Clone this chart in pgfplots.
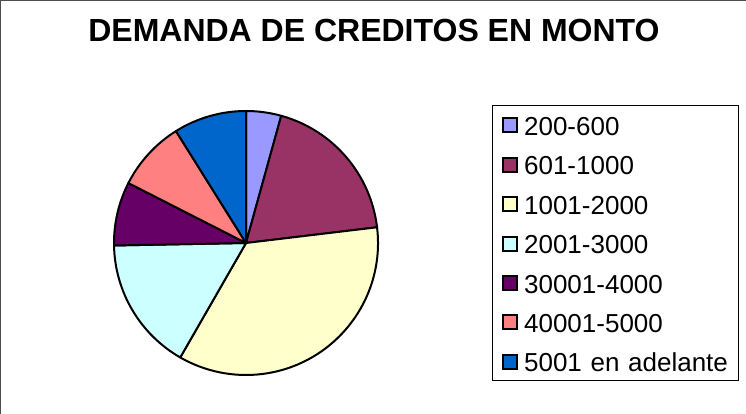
\documentclass[border=0pt]{standalone}
\usepackage{fontspec}
\setmainfont{Liberation Sans}
\usepackage{pgfplots}
\usepackage{pgfplotstable}
\pgfplotsset{compat=1.18}
\definecolor{c1}{HTML}{9999FF}
\definecolor{c2}{HTML}{993366}
\definecolor{c3}{HTML}{FFFFCC}
\definecolor{c4}{HTML}{CCFFFF}
\definecolor{c5}{HTML}{660066}
\definecolor{c6}{HTML}{FF8080}
\definecolor{c7}{HTML}{0066CC}
\pgfplotstableread[col sep=comma]{
label,value,col
200-600,4.3,c1
601-1000,18.8,c2
1001-2000,35.2,c3
2001-3000,16.4,c4
30001-4000,7.8,c5
40001-5000,8.6,c6
5001 en adelante,8.9,c7
}\piedata
\begin{document}
\begin{tikzpicture}
\useasboundingbox (0,0) rectangle (746pt,414pt);
\begin{axis}[
  at={(0,0)}, anchor=south west,
  width=746pt, height=414pt, scale only axis,
  xmin=0, xmax=746, ymin=0, ymax=414,
  hide axis, clip=false,
  title={DEMANDA DE CREDITOS EN MONTO},
  title style={at={(0.5013,0.8841)}, anchor=base, inner sep=0pt,
    font=\fontsize{32}{37}\selectfont\bfseries},
  legend image code/.code={\draw[#1, line width=2pt] (1pt,-7.7pt) rectangle (15.6pt,6.3pt);},
  legend cell align=left,
  legend style={at={(axis cs:492,309)}, anchor=north west,
    draw=black, line width=1pt, fill=white,
    inner xsep=9pt, inner ysep=3pt,
    row sep=6.8pt, column sep=6pt,
    font=\fontsize{26}{30}\selectfont,
    nodes={inner sep=0pt, text height=27pt, text depth=5.6pt}},
]
\def\cumval{0}
\pgfplotsforeachungrouped \i in {0,...,6}{%
  \pgfplotstablegetelem{\i}{value}\of\piedata \let\sliceval\pgfplotsretval
  \pgfplotstablegetelem{\i}{col}\of\piedata \let\slicecol\pgfplotsretval
  \pgfplotstablegetelem{\i}{label}\of\piedata \let\slicelab\pgfplotsretval
  \pgfmathsetmacro\astart{90-\cumval*3.6}%
  \pgfmathsetmacro\cumval{\cumval+\sliceval}%
  \pgfmathsetmacro\aend{90-\cumval*3.6}%
  \edef\temp{\noexpand\filldraw[fill=\slicecol, draw=black, line width=2pt, line join=round]
    (axis cs:246,171) -- ++(\astart:132pt) arc[start angle=\astart, end angle=\aend, radius=132pt] -- cycle;
    \noexpand\addlegendimage{fill=\slicecol, draw=black}%
    \noexpand\addlegendentry[text width=205pt]{\slicelab}}%
  \temp
}
\end{axis}
\draw[line width=2pt, black!70] (0,414pt) -- (746pt,414pt);
\draw[line width=2pt, black!70] (0,0) -- (0,414pt);
\end{tikzpicture}
\end{document}
